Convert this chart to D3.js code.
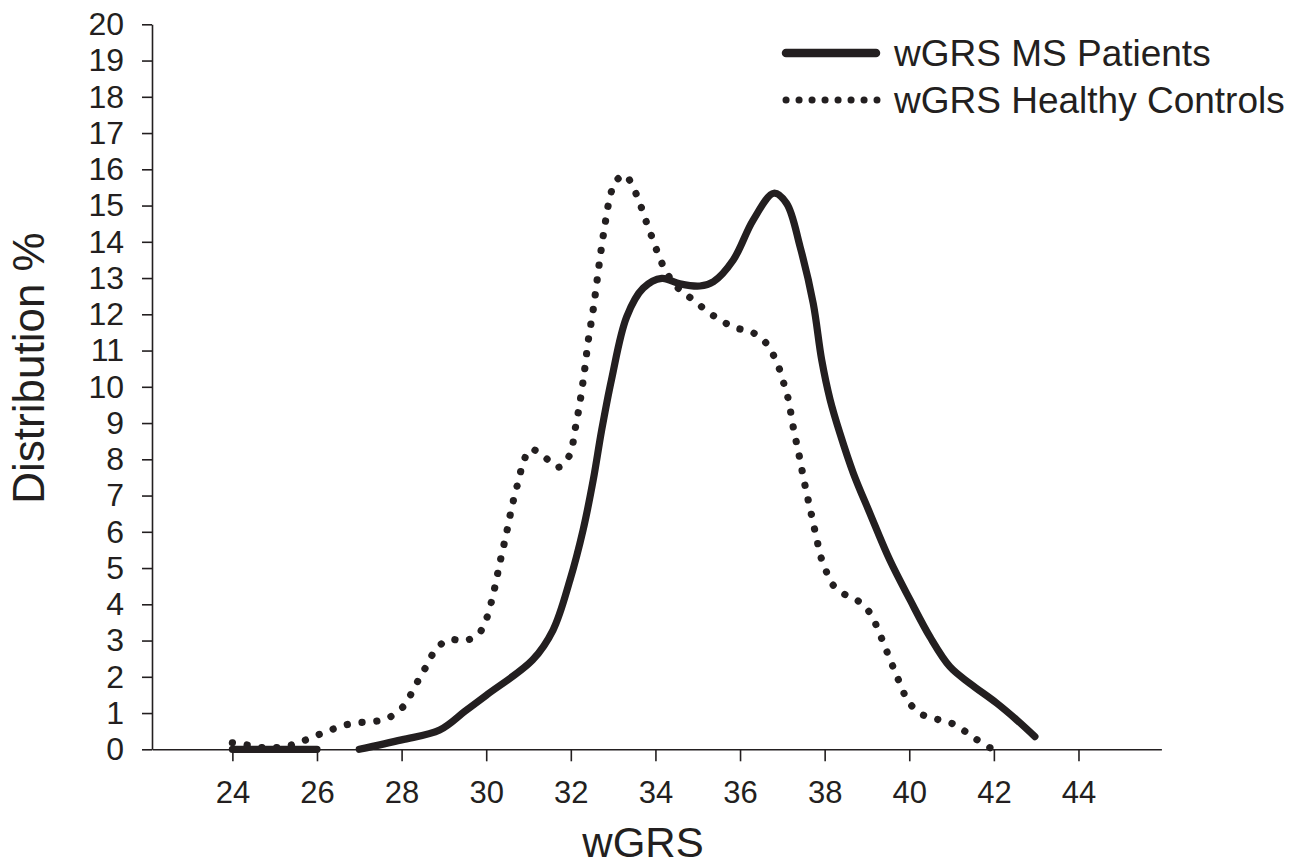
<!DOCTYPE html>
<html>
<head>
<meta charset="utf-8">
<script src="https://cdn.jsdelivr.net/npm/d3@7"></script>
<style>
  body { margin: 0; background: #fff; }
  text { font-family: "Liberation Sans", Arial, sans-serif; fill: #231f20; }
</style>
</head>
<body>
<div id="chart"></div>
<script>
// values
const msX = [24, 25, 26, 26.5, 27, 28, 28.9, 29.5, 30, 31.1, 31.58, 31.98, 32.29, 32.53, 32.73, 32.96, 33.32, 33.71, 34.15, 34.58, 35.05, 35.37, 35.84, 36.31, 36.8, 37.1, 37.42, 37.73, 37.93, 38.13, 38.36, 38.68, 39.07, 39.54, 40.02, 40.49, 40.96, 41.43, 42.07, 42.54, 42.97];
const msY = [0, 0, 0, null, 0, 0.26, 0.53, 1.05, 1.49, 2.47, 3.29, 4.67, 6.05, 7.43, 8.81, 10.19, 11.93, 12.72, 12.99, 12.84, 12.78, 12.9, 13.5, 14.6, 15.34, 15.06, 13.86, 12.3, 10.74, 9.64, 8.72, 7.61, 6.51, 5.22, 4.12, 3.1, 2.28, 1.82, 1.27, 0.81, 0.35];

const hcX = [24, 24.34, 24.67, 25, 25.34, 25.67, 26.01, 26.36, 26.7, 27.03, 27.37, 27.71, 28.04, 28.24, 28.42, 28.61, 28.81, 29.13, 29.46, 29.8, 29.99, 30.18, 30.32, 30.47, 30.61, 30.78, 30.87, 31.05, 31.39, 31.7, 31.96, 32.11, 32.23, 32.33, 32.41, 32.52, 32.61, 32.7, 32.8, 32.92, 33.05, 33.28, 33.5, 33.63, 33.75, 33.87, 34, 34.13, 34.3, 34.58, 34.89, 35.24, 35.59, 35.92, 36.26, 36.59, 36.8, 36.94, 37.04, 37.14, 37.26, 37.4, 37.53, 37.68, 37.83, 37.91, 38.03, 38.2, 38.52, 38.86, 39.11, 39.27, 39.41, 39.54, 39.68, 39.82, 39.98, 40.29, 40.62, 40.96, 41.3, 41.63, 41.97];
const hcY = [0.18, 0.12, 0.05, 0.04, 0.1, 0.23, 0.39, 0.55, 0.68, 0.74, 0.77, 0.88, 1.18, 1.56, 1.96, 2.34, 2.76, 3.03, 2.99, 3.16, 3.55, 4.35, 5.13, 5.91, 6.7, 7.49, 7.89, 8.28, 8.05, 7.78, 8.09, 8.88, 9.68, 10.5, 11.26, 12.05, 12.84, 13.64, 14.42, 15.2, 15.65, 15.84, 15.43, 15.07, 14.66, 14.28, 13.86, 13.47, 13.08, 12.67, 12.4, 12.07, 11.8, 11.62, 11.52, 11.24, 10.85, 10.46, 10.07, 9.66, 8.87, 8.09, 7.31, 6.51, 5.71, 5.31, 4.93, 4.53, 4.24, 4.04, 3.69, 3.27, 2.88, 2.49, 2.1, 1.7, 1.31, 0.97, 0.84, 0.74, 0.51, 0.24, 0];

const xTicks = [24, 26, 28, 30, 32, 34, 36, 38, 40, 42, 44];
const yTicks = d3.range(0, 21);
const seriesNames = ['wGRS MS Patients', 'wGRS Healthy Controls'];

const ink = '#231f20';
const width = 1292, height = 867;

const svg = d3.select('#chart').append('svg')
  .attr('width', width)
  .attr('height', height);

const x = d3.scaleLinear().domain([22.1, 45.96]).range([152, 1161.4]);
const y = d3.scaleLinear().domain([0, 20]).range([749.3, 24.3]);

// x axis
const xAxis = svg.append('g')
  .attr('transform', `translate(0,${y(0)})`)
  .call(d3.axisBottom(x).tickValues(xTicks).tickSize(12).tickSizeOuter(0).tickPadding(20).tickFormat(d3.format('d')));
xAxis.select('.domain').attr('stroke', ink).attr('stroke-width', 1.6);
xAxis.selectAll('.tick line').attr('stroke', ink).attr('stroke-width', 1.6);
xAxis.selectAll('.tick text').style('font-size', '31px').attr('fill', ink);

// y axis
const yAxis = svg.append('g')
  .attr('transform', `translate(${x(22.1)},0)`)
  .call(d3.axisLeft(y).tickValues(yTicks).tickSize(10).tickPadding(18).tickSizeOuter(0));
yAxis.select('.domain').attr('stroke', ink).attr('stroke-width', 1.6);
yAxis.selectAll('.tick line').attr('stroke', ink).attr('stroke-width', 1.6);
yAxis.selectAll('.tick text').style('font-size', '32px').attr('fill', ink);

// axis titles
svg.append('text')
  .attr('x', 643).attr('y', 857)
  .attr('text-anchor', 'middle')
  .style('font-size', '42px')
  .text('wGRS');

svg.append('text')
  .attr('transform', 'translate(44,368) rotate(-90)')
  .attr('text-anchor', 'middle')
  .style('font-size', '44px')
  .text('Distribution %');

// lines
const line = d3.line()
  .defined(d => d[1] !== null)
  .x(d => x(d[0]))
  .y(d => y(d[1]))
  .curve(d3.curveCatmullRom.alpha(0.5));

const hcData = hcX.map((v, i) => [v, hcY[i]]);
const msData = msX.map((v, i) => [v, msY[i]]);

svg.append('path')
  .datum(hcData)
  .attr('d', line)
  .attr('fill', 'none')
  .attr('stroke', ink)
  .attr('stroke-width', 7.2)
  .attr('stroke-linecap', 'round')
  .attr('stroke-dasharray', '0.1 14.8');

svg.append('path')
  .datum(msData)
  .attr('d', line)
  .attr('fill', 'none')
  .attr('stroke', ink)
  .attr('stroke-width', 7.2)
  .attr('stroke-linecap', 'round')
  .attr('stroke-linejoin', 'round');

// legend
const legend = svg.append('g');
legend.append('line')
  .attr('x1', 786).attr('x2', 876).attr('y1', 53).attr('y2', 53)
  .attr('stroke', ink).attr('stroke-width', 8.5).attr('stroke-linecap', 'round');
legend.append('line')
  .attr('x1', 786).attr('x2', 877).attr('y1', 100).attr('y2', 100)
  .attr('stroke', ink).attr('stroke-width', 7).attr('stroke-linecap', 'round')
  .attr('stroke-dasharray', '0.1 12.9');
legend.selectAll('text.lab')
  .data(seriesNames)
  .join('text')
  .attr('class', 'lab')
  .attr('x', 894)
  .attr('y', (d, i) => 66 + i * 47)
  .style('font-size', '37px')
  .text(d => d);
</script>
</body>
</html>
